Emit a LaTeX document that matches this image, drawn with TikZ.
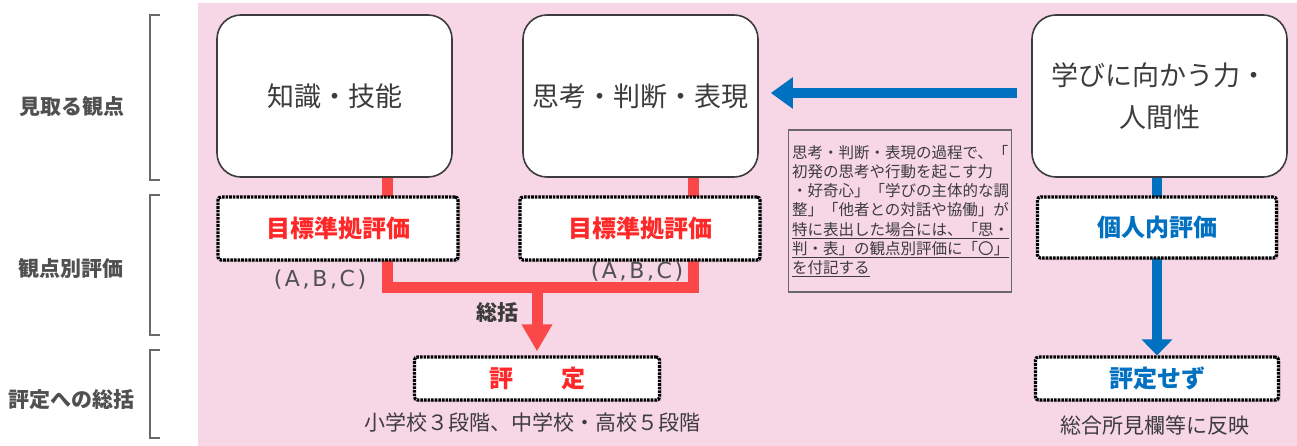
\documentclass[tikz,border=0pt]{standalone}
\usepackage{fontspec}
\setmainfont{Noto Sans CJK JP}
\newfontfamily\abcfont[LetterSpace=12]{DejaVu Sans}
\usetikzlibrary{arrows.meta,shadows}

\definecolor{bgpink}{RGB}{247,214,229}
\definecolor{linered}{RGB}{250,72,72}
\definecolor{textred}{RGB}{255,40,40}
\definecolor{lineblue}{RGB}{0,112,192}
\definecolor{textgray}{RGB}{60,60,60}
\definecolor{bracketgray}{RGB}{105,105,105}

\tikzset{
  viewbox/.style={draw=textgray, line width=1.6pt, fill=white, rounded corners=24pt,
    minimum height=162pt, align=center, text=textgray, font=\fontsize{27}{42}\selectfont},
  evalbox/.style={draw=black, line width=3.2pt, dash pattern=on 2.6pt off 1pt,
    fill=white, rounded corners=3pt, font=\bfseries\fontsize{24}{28}\selectfont,
    drop shadow={shadow xshift=2pt, shadow yshift=-2pt, opacity=0.3}},
  notebox/.style={draw=bracketgray, line width=1.3pt,
    minimum height=162pt, text width=216pt, align=left, text=textgray,
    font=\fontsize{15.5}{19.3}\selectfont},
  sidelabel/.style={text=textgray!90, font=\bfseries\fontsize{21}{24}\selectfont},
  caption/.style={text=textgray, font=\fontsize{21}{24}\selectfont},
  abclabel/.style={text=textgray!90, font=\abcfont\fontsize{22}{24}\selectfont},
  redline/.style={draw=linered, line width=11pt},
  redarrow/.style={draw=linered, line width=11pt, -{Triangle[length=27pt,width=29pt]}},
  bluearrow/.style={draw=lineblue, line width=10pt, -{Triangle[length=22pt,width=30pt]}}
}

\begin{document}
\begin{tikzpicture}[x=1pt,y=-1pt]
  % Canvas and pink panel
  \useasboundingbox[fill=white] (0,0) rectangle (1297,446);
  \fill[bgpink] (198,3) rectangle (1297,446);

  % Row labels on the left with their brackets
  \node[sidelabel] (rowview) at (72,107) {見取る観点};
  \node[sidelabel] (roweval) at (71,268) {観点別評価};
  \node[sidelabel] (rowsum) at (72,400) {評定への総括};

  \draw[bracketgray, line width=1.5pt] (160,15) -- (150,15) -- (150,180) -- (160,180);
  \draw[bracketgray, line width=1.5pt] (160,195) -- (150,195) -- (150,335) -- (160,335);
  \draw[bracketgray, line width=1.5pt] (160,350) -- (150,350) -- (150,438) -- (160,438);

  % The three viewpoints
  \node[viewbox, minimum width=235pt] (chishiki) at (334.5,96) {知識・技能};
  \node[viewbox, minimum width=235pt] (shiko) at (640.5,96) {思考・判断・表現};
  \node[viewbox, minimum width=255pt] (gakubi) at (1159.5,96) {学びに向かう力・\\人間性};

  % Note box
  \node[notebox] (note) at (900,211) {思考・判断・表現の過程で、「\\
    初発の思考や行動を起こす力\\
    ・好奇心」「学びの主体的な調\\
    整」「他者との対話や協働」が\\
    \underline{特に表出した場合には、「思・}\\
    \underline{判・表」の観点別評価に「〇」}\\
    \underline{を付記する}};

  % Final rating boxes
  \node[evalbox, minimum width=245pt, minimum height=43pt, text=textred] (hyotei) at (537,378.5) {評　　定};
  \node[evalbox, minimum width=243pt, minimum height=43pt, text=lineblue] (sezu) at (1157,378.5) {評定せず};
  \node[caption] (hyoteinote) at (532,422) {小学校３段階、中学校・高校５段階};
  \node[caption] (sezunote) at (1155,425) {総合所見欄等に反映};

  % Red connectors: summing up
  \coordinate (sum) at (537,287);
  \draw[redline] ([xshift=52.5pt]chishiki.south) |- (sum) -| ([xshift=52.5pt]shiko.south);
  \draw[redarrow, shorten >=4pt] (sum) -- (hyotei.north);
  \node[text=textgray, font=\bfseries\fontsize{21}{24}\selectfont] (soukatsu) at (497,313) {総括};

  % Blue connectors
  \draw[bluearrow, shorten <=14pt, shorten >=12pt] ([yshift=3pt]gakubi.west) -- ([yshift=3pt]shiko.east);
  \draw[draw=lineblue, line width=10pt, -{Triangle[length=16pt,width=30pt]}]
    (gakubi.south -| sezu.north) -- (sezu.north);

  % Evaluation boxes on top of the lines
  \node[evalbox, minimum width=240pt, minimum height=63pt, text=textred] (mokuhyo1) at (338,228.5) {目標準拠評価};
  \node[evalbox, minimum width=240pt, minimum height=63pt, text=textred] (mokuhyo2) at (640,228.5) {目標準拠評価};
  \node[evalbox, minimum width=239pt, minimum height=61pt, text=lineblue] (kojin) at (1157,227.5) {個人内評価};

  \node[abclabel] (abc1) at (320,280) {(A,B,C)};
  \node[abclabel] (abc2) at (637,272) {(A,B,C)};
\end{tikzpicture}
\end{document}
